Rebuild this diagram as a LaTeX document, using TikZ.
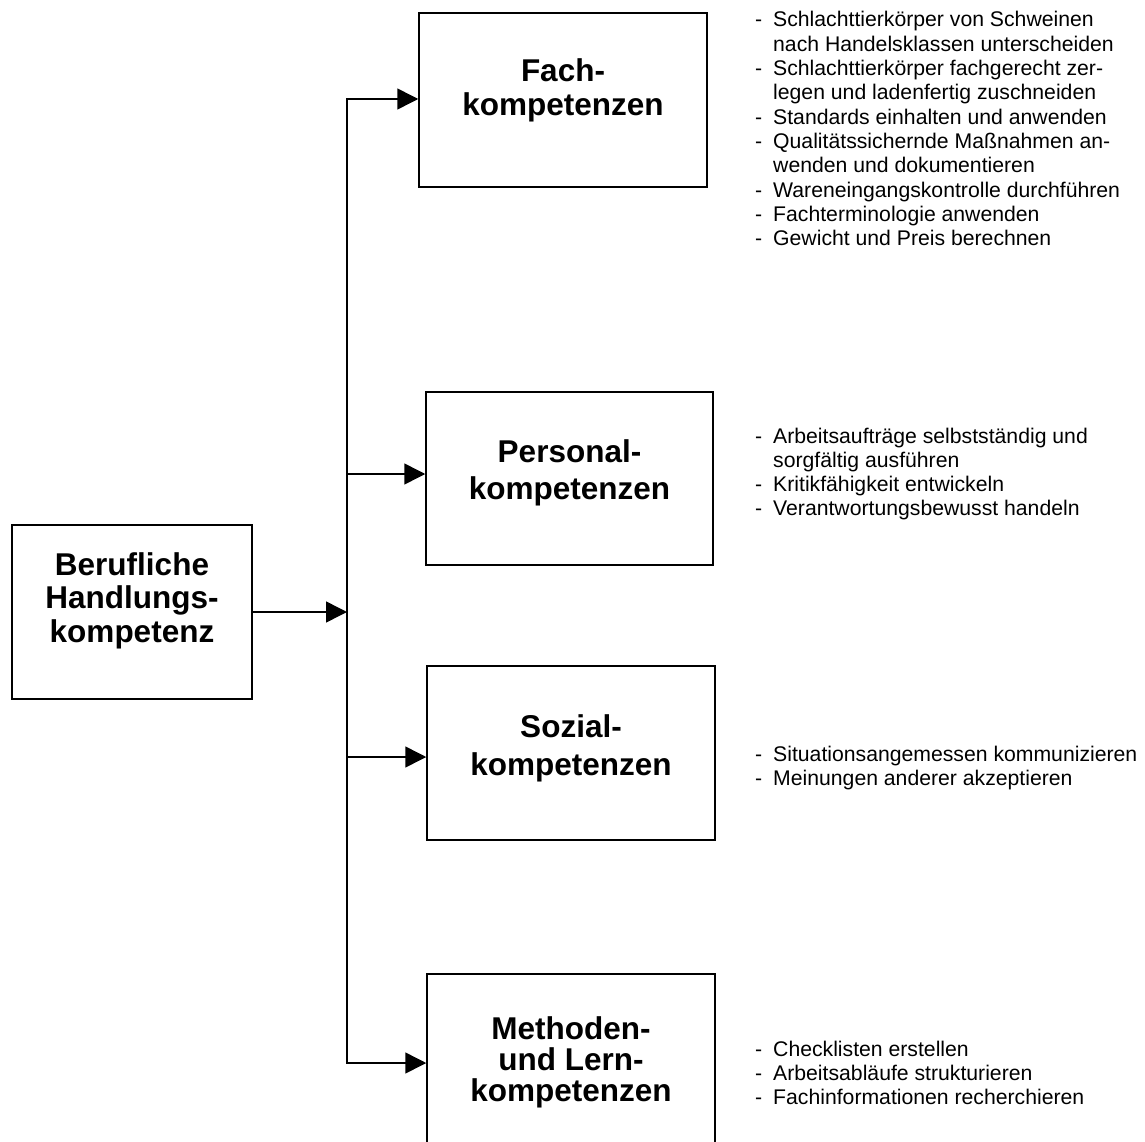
\documentclass[tikz,border=0pt]{standalone}
\usepackage{fontspec}
\setmainfont{Liberation Sans}
\usetikzlibrary{arrows.meta}

% one dashed entry of a competence list, continuation lines hang under the text
\newcommand\kompitem{\par\noindent\hangindent=18pt\hangafter=1\makebox[18pt][l]{-}}
% bold box title, first baseline is the reference point
\newcommand\boxtitle[2]{\parbox[t]{260pt}{\centering\fontsize{31.5}{#1}\selectfont\bfseries #2}}
% list of competences beside a box
\newcommand\itemlist[1]{\parbox[t]{390pt}{\fontsize{21.2}{24.3}\selectfont\raggedright #1}}

\tikzset{
  kbox/.style={draw, line width=1.5pt, inner sep=0pt, minimum height=174pt},
  ktitle/.style={anchor=base, inner sep=0pt},
  klist/.style={anchor=base west, inner sep=0pt},
  arr/.style={line width=1.5pt, -{Triangle[length=21pt,width=21pt]}},
  trunk/.style={line width=1.5pt, line cap=rect}
}

\begin{document}
\begin{tikzpicture}[x=1pt, y=-1pt]
\useasboundingbox (0,0) rectangle (1145,1142);
\clip (0,0) rectangle (1145,1142);

% boxes
\node[kbox, minimum width=240pt] (beruf) at (132,612) {};
\node[kbox, minimum width=288pt] (fach) at (563,100) {};
\node[kbox, minimum width=287pt, minimum height=173pt] (pers) at (569.5,478.5) {};
\node[kbox, minimum width=288pt] (sozial) at (571,753) {};
\node[kbox, minimum width=288pt] (meth) at (571,1061) {};

% box titles
\node[ktitle] (beruf-t) at (132,575) {\boxtitle{33.5pt}{Berufliche\\Handlungs-\\kompetenz}};
\node[ktitle] (fach-t) at (563,82) {\boxtitle{33.3pt}{Fach-\\kompetenzen}};
\node[ktitle] (pers-t) at (569.5,462) {\boxtitle{37.5pt}{Personal-\\kompetenzen}};
\node[ktitle] (sozial-t) at (571,737) {\boxtitle{38.7pt}{Sozial-\\kompetenzen}};
\node[ktitle] (meth-t) at (571,1039) {\boxtitle{31pt}{Methoden-\\und Lern-\\kompetenzen}};

% branching connector
\coordinate (tA) at (347,99);
\coordinate (tB) at (347,474);
\coordinate (tC) at (347,757);
\coordinate (tD) at (347,1063);
\draw[trunk] (tA) -- (tD);
\draw[arr] (beruf.east) -- (beruf.east -| tA);
\draw[arr] (tA) -- (tA -| fach.west);
\draw[arr] (tB) -- (tB -| pers.west);
\draw[arr] (tC) -- (tC -| sozial.west);
\draw[arr] (tD) -- (tD -| meth.west);

% competence lists
\node[klist] (fach-l) at (755,27) {\itemlist{%
  \kompitem Schlachttierkörper von Schweinen\newline nach Handelsklassen unterscheiden
  \kompitem Schlachttierkörper fachgerecht zer-\newline legen und ladenfertig zuschneiden
  \kompitem Standards einhalten und anwenden
  \kompitem Qualitätssichernde Maßnahmen an-\newline wenden und dokumentieren
  \kompitem Wareneingangskontrolle durchführen
  \kompitem Fachterminologie anwenden
  \kompitem Gewicht und Preis berechnen}};
\node[klist] (pers-l) at (755,443) {\itemlist{%
  \kompitem Arbeitsaufträge selbstständig und\newline sorgfältig ausführen
  \kompitem Kritikfähigkeit entwickeln
  \kompitem Verantwortungsbewusst handeln}};
\node[klist] (sozial-l) at (755,761) {\itemlist{%
  \kompitem Situationsangemessen kommunizieren
  \kompitem Meinungen anderer akzeptieren}};
\node[klist] (meth-l) at (755,1056) {\itemlist{%
  \kompitem Checklisten erstellen
  \kompitem Arbeitsabläufe strukturieren
  \kompitem Fachinformationen recherchieren}};
\end{tikzpicture}
\end{document}
